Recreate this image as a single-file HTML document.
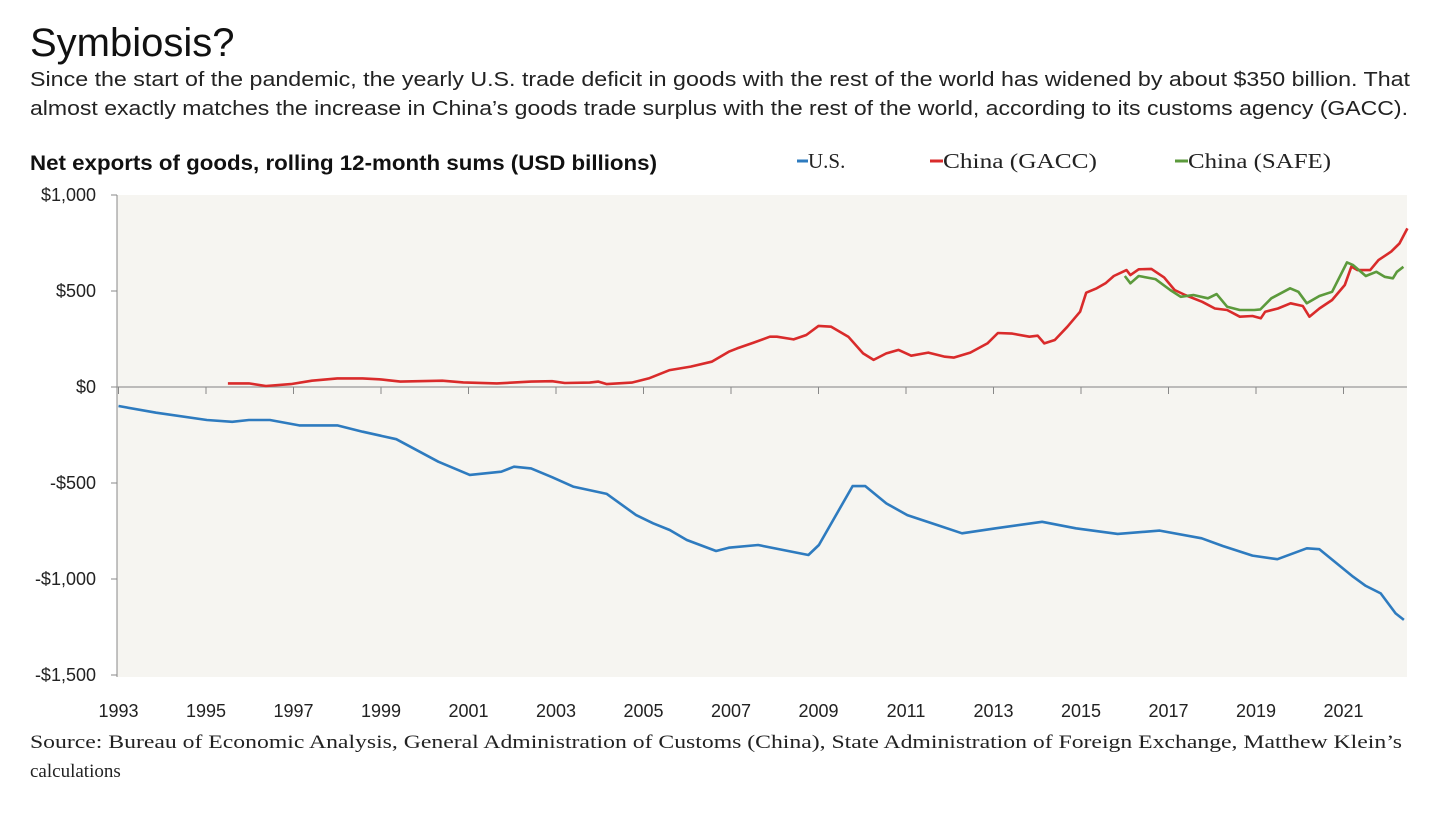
<!DOCTYPE html>
<html><head><meta charset="utf-8"><style>
html,body{margin:0;padding:0;background:#fff;}
svg{display:block;}
.sans{font-family:"Liberation Sans",sans-serif;}
.serif{font-family:"Liberation Serif",serif;}
</style></head><body>
<svg id="chart" width="1456" height="820" viewBox="0 0 1456 820">
<text class="sans" x="30" y="56" font-size="40" fill="#111">Symbiosis?</text>
<text class="sans" x="30" y="86" font-size="20" fill="#222" textLength="1380" lengthAdjust="spacingAndGlyphs">Since the start of the pandemic, the yearly U.S. trade deficit in goods with the rest of the world has widened by about $350 billion. That</text>
<text class="sans" x="30" y="115" font-size="20" fill="#222" textLength="1378" lengthAdjust="spacingAndGlyphs">almost exactly matches the increase in China’s goods trade surplus with the rest of the world, according to its customs agency (GACC).</text>
<text class="sans" x="30" y="170" font-size="21" font-weight="bold" fill="#111" textLength="627" lengthAdjust="spacingAndGlyphs">Net exports of goods, rolling 12-month sums (USD billions)</text>
<g>
<g><line x1="797" y1="161" x2="808" y2="161" stroke="#2e7bbf" stroke-width="3"/><text class="serif" x="808" y="168" font-size="21" fill="#222">U.S.</text></g>
<g><line x1="930" y1="161" x2="943" y2="161" stroke="#d92b2b" stroke-width="3"/><text class="serif" x="943" y="168" font-size="21" fill="#222" textLength="154" lengthAdjust="spacingAndGlyphs">China (GACC)</text></g>
<g><line x1="1175" y1="161" x2="1188" y2="161" stroke="#5c9a3c" stroke-width="3"/><text class="serif" x="1188" y="168" font-size="21" fill="#222" textLength="143" lengthAdjust="spacingAndGlyphs">China (SAFE)</text></g>
</g>
<rect x="117" y="195" width="1290" height="482" fill="#f6f5f1"/>
<g id="axes"></g>
<g id="series"></g>
<text class="serif" x="30" y="748" font-size="19" fill="#222" textLength="1372" lengthAdjust="spacingAndGlyphs">Source: Bureau of Economic Analysis, General Administration of Customs (China), State Administration of Foreign Exchange, Matthew Klein’s</text>
<text class="serif" x="30" y="777" font-size="19" fill="#222">calculations</text>
</svg>
<script>
const yTicks = [1000, 500, 0, -500, -1000, -1500];
const yTickLabels = ["$1,000", "$500", "$0", "-$500", "-$1,000", "-$1,500"];
const xTickYears = [1993,1995,1997,1999,2001,2003,2005,2007,2009,2011,2013,2015,2017,2019,2021];
const usYears = [1993.0,1993.86,1995.02,1995.6,1995.98,1996.46,1997.13,1998.0,1998.58,1999.35,2000.31,2001.03,2001.75,2002.04,2002.43,2002.91,2003.39,2004.16,2004.83,2005.22,2005.6,2005.99,2006.66,2006.95,2007.62,2008.77,2009.01,2009.78,2010.07,2010.55,2011.03,2011.71,2012.28,2013.05,2014.11,2014.88,2015.84,2016.8,2017.76,2018.24,2018.92,2019.49,2020.16,2020.45,2021.22,2021.51,2021.85,2022.19,2022.38];
const usValues = [-99,-134,-172,-181,-172,-172,-200,-200,-233,-272,-389,-458,-441,-415,-424,-470,-519,-557,-667,-710,-745,-797,-854,-837,-823,-875,-823,-516,-516,-606,-667,-719,-762,-736,-702,-736,-765,-748,-788,-828,-878,-897,-840,-845,-988,-1036,-1075,-1179,-1213];
const gaccYears = [1995.5,1995.98,1996.37,1996.94,1997.42,1998.0,1998.58,1998.96,1999.44,2000.4,2000.88,2001.65,2002.43,2002.91,2003.2,2003.77,2003.97,2004.16,2004.73,2005.12,2005.6,2006.08,2006.56,2006.95,2007.14,2007.52,2007.89,2008.05,2008.43,2008.72,2009.0,2009.29,2009.68,2010.02,2010.26,2010.55,2010.83,2011.12,2011.51,2011.89,2012.09,2012.47,2012.86,2013.1,2013.43,2013.82,2014.01,2014.16,2014.4,2014.69,2014.98,2015.12,2015.36,2015.56,2015.75,2016.04,2016.13,2016.32,2016.61,2016.9,2017.14,2017.38,2017.77,2018.06,2018.34,2018.63,2018.92,2019.11,2019.21,2019.5,2019.79,2020.07,2020.22,2020.45,2020.74,2021.03,2021.18,2021.32,2021.61,2021.8,2022.09,2022.28,2022.46];
const gaccValues = [19,19,5,15,33,45,45,40,28,33,24,19,28,30,21,23,28,15,23,45,88,106,132,184,201,231,262,262,248,271,318,314,262,175,141,175,193,163,179,158,153,179,227,281,278,262,267,227,245,314,392,491,514,540,578,609,583,613,615,571,505,479,444,409,401,366,370,358,392,409,436,422,366,409,453,531,627,609,609,661,705,748,826];
const safeYears = [2016.0,2016.13,2016.32,2016.7,2017.04,2017.28,2017.57,2017.9,2018.1,2018.34,2018.63,2018.96,2019.1,2019.35,2019.78,2019.97,2020.16,2020.45,2020.74,2021.08,2021.22,2021.51,2021.75,2021.94,2022.13,2022.22,2022.37];
const safeValues = [578,540,578,562,505,470,479,462,484,418,401,401,404,462,514,496,436,474,496,649,635,578,600,574,566,600,626];

const NS = "http://www.w3.org/2000/svg";
function xScale(yr){ return 118.5 + (yr - 1993) * 43.75; }
function yScale(v){ return 387 - v * 96 / 500; }
const axes = document.getElementById('axes');
const series = document.getElementById('series');
function mk(tag, attrs, parent){ const e=document.createElementNS(NS,tag); for(const k in attrs) e.setAttribute(k, attrs[k]); parent.appendChild(e); return e; }

let la = mk('line',{x1:117,y1:195,x2:117,y2:677,stroke:'#888','stroke-width':1},axes);


yTicks.forEach((v,i)=>{
  const y=yScale(v);
  const t=mk('line',{x1:111,y1:y,x2:117,y2:y,stroke:'#888','stroke-width':1},axes);
  
  
  const lab=mk('text',{x:96,y:y+6,'text-anchor':'end','font-size':18,fill:'#222','class':'sans'},axes);
  lab.textContent=yTickLabels[i];
  
  
});
let zl = mk('line',{x1:117,y1:yScale(0),x2:1407,y2:yScale(0),stroke:'#999','stroke-width':1.2},axes);


xTickYears.forEach(yr=>{
  const x=xScale(yr);
  const t=mk('line',{x1:x,y1:yScale(0),x2:x,y2:yScale(0)+7,stroke:'#888','stroke-width':1},axes);
  
  
  const lab=mk('text',{x:x,y:717,'text-anchor':'middle','font-size':18,fill:'#222','class':'sans'},axes);
  lab.textContent=String(yr);
  
  
});
function line(xs, vs, color, name){
  const d = xs.map((yr,i)=>(i?'L':'M')+xScale(yr).toFixed(1)+','+yScale(vs[i]).toFixed(1)).join(' ');
  const p=mk('path',{d:d,fill:'none',stroke:color,'stroke-width':2.6,'stroke-linejoin':'round'},series);
  
  
}
line(usYears, usValues, '#2e7bbf', 'us-line');
line(gaccYears, gaccValues, '#d92b2b', 'china-gacc-line');
line(safeYears, safeValues, '#5c9a3c', 'china-safe-line');
</script>
</body></html>
